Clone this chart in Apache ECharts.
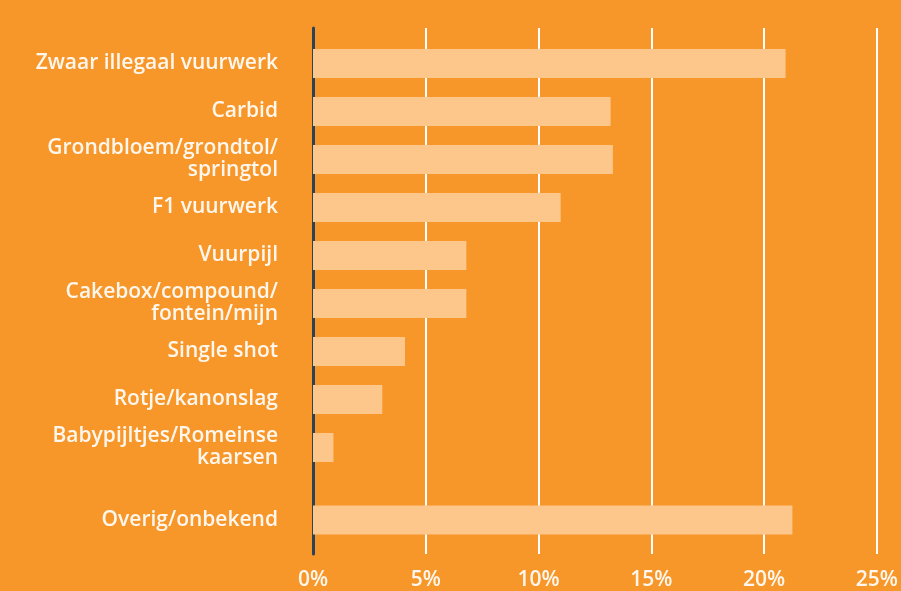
<!DOCTYPE html>
<html>
<head>
<meta charset="utf-8">
<script src="https://cdn.jsdelivr.net/npm/echarts@6/dist/echarts.min.js"></script>
<style>
  html, body { margin: 0; padding: 0; background: #F7972A; }
  #chart { width: 901px; height: 591px; }
</style>
</head>
<body>
<div id="chart"></div>
<script>
// soorten vuurwerk, de laatste rij staat los onderaan
const categories = [
  'Zwaar illegaal vuurwerk',
  'Carbid',
  'Grondbloem/grondtol/\nspringtol',
  'F1 vuurwerk',
  'Vuurpijl',
  'Cakebox/compound/\nfontein/mijn',
  'Single shot',
  'Rotje/kanonslag',
  'Babypijltjes/Romeinse\nkaarsen',
  'Overig/onbekend'
]
const shares = [20.8, 13.1, 13.2, 10.9, 6.75, 6.75, 4.05, 3.05, 0.9, 21.1]
const xMin = 0
const xMax = 25
const xStep = 5

const BG = '#F7972A'
const BAR = '#FDC68A'
const TEXT = '#FFF7EE'
const FONT = '"Open Sans", sans-serif'

// laatste rij (overig) apart in een eigen grid zodat er ruimte tussen zit
const mainCats = categories.slice(0, categories.length - 1)
const mainVals = shares.slice(0, shares.length - 1)
const restCats = categories.slice(-1)
const restVals = shares.slice(-1)

const labelStyle = {
  color: TEXT,
  fontFamily: FONT,
  fontSize: 21,
  fontWeight: 600,
  lineHeight: 22,
  margin: 35,
  align: 'right'
}
const hiddenX = (gridIndex) => ({
  type: 'value', gridIndex, min: xMin, max: xMax, show: false
})
const catY = (gridIndex, data) => ({
  type: 'category', gridIndex, data, inverse: true,
  axisLine: {show: false},
  axisTick: {show: false},
  splitLine: {show: false},
  axisLabel: labelStyle
})

const chart = echarts.init(document.getElementById('chart'))
chart.setOption({
  backgroundColor: BG,
  animation: false,
  grid: [
    {left: 313, right: 20, top: 28, bottom: 31},   // rasterlijnen + as
    {left: 313, right: 20, top: 39.5, height: 432}, // 9 soorten
    {left: 313, right: 20, top: 496, height: 48}    // overig
  ],
  xAxis: [
    {
      type: 'value', gridIndex: 0, min: xMin, max: xMax, interval: xStep,
      axisLine: {show: false},
      axisTick: {show: false},
      splitLine: {lineStyle: {color: '#FFFFFF', width: 2}},
      axisLabel: {
        color: TEXT, fontFamily: FONT, fontSize: 21, fontWeight: 600,
        margin: 16, formatter: '{value}%'
      }
    },
    hiddenX(1),
    hiddenX(2)
  ],
  yAxis: [
    {
      type: 'value', gridIndex: 0, min: 0, max: 1,
      axisLine: {show: true, lineStyle: {color: '#2B4356', width: 3}},
      axisTick: {show: false},
      axisLabel: {show: false},
      splitLine: {show: false}
    },
    catY(1, mainCats),
    catY(2, restCats)
  ],
  series: [
    {
      type: 'bar', xAxisIndex: 1, yAxisIndex: 1,
      data: mainVals, barWidth: 29,
      itemStyle: {color: BAR}
    },
    {
      type: 'bar', xAxisIndex: 2, yAxisIndex: 2,
      data: restVals, barWidth: 29,
      itemStyle: {color: BAR}
    }
  ]
})
</script>
</body>
</html>
